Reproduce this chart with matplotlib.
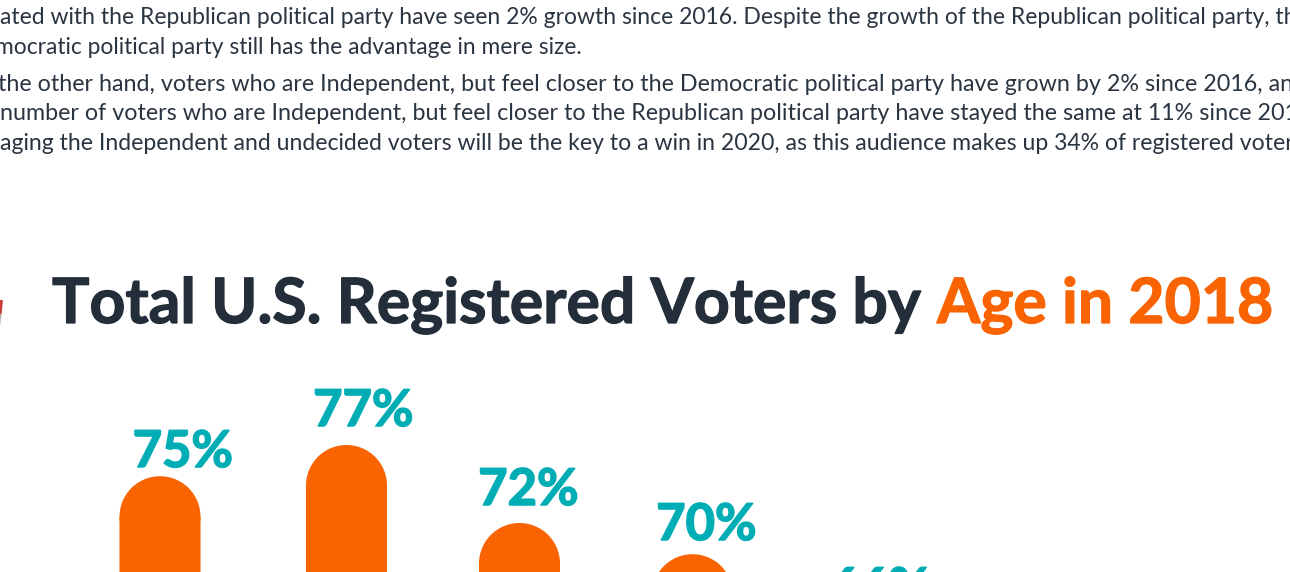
import matplotlib
matplotlib.use("Agg")
import matplotlib.pyplot as plt
import matplotlib.patheffects as pe
from matplotlib.patches import Circle, Polygon, Rectangle

W, H = 1290, 572
plt.rcParams['font.family'] = ['Lato', 'Open Sans', 'DejaVu Sans']

# Body copy above the chart
paragraph_lines = [
    "ated with the Republican political party have seen 2% growth since 2016. Despite the growth of the Republican political party, the",
    "mocratic political party still has the advantage in mere size.",
    "the other hand, voters who are Independent, but feel closer to the Democratic political party have grown by 2% since 2016, and",
    "number of voters who are Independent, but feel closer to the Republican political party have stayed the same at 11% since 2016.",
    "aging the Independent and undecided voters will be the key to a win in 2020, as this audience makes up 34% of registered voters.",
]

values = [75, 77, 72, 70, 66]
value_labels = ["75%", "77%", "72%", "70%", "66%"]

# Layout in pixels
line_baselines = [24.5, 54, 91, 120.5, 149.5]
line_starts = [0, -5, -2, 0, 0]
line_sizes = [16.5, 16.4, 16.76, 16.75, 16.55]
bar_centres = [160, 346.5, 519.5, 692.5, 880]
label_centres = [183, 363.5, 528.5, 706.5, 880]
label_baselines = [467, 426, 505, 540, 604]
bar_radius = 40.5

fig = plt.figure(figsize=(W / 100, H / 100), dpi=100, facecolor="white")
ax = fig.add_axes([0, 0, 1, 1])
ax.set_xlim(0, W)
ax.set_ylim(H, 0)
ax.axis("off")

TEXT = "#2a3541"
TITLE = "#232e3a"
ORANGE = "#f96302"
TEAL = "#00adb5"

for line, x, y, size in zip(paragraph_lines, line_starts, line_baselines, line_sizes):
    ax.text(x, y, line, fontsize=size, color=TEXT, va="baseline", ha="left", clip_on=True)

title_weight = [pe.withStroke(linewidth=0.9, foreground=TITLE)]
accent_weight = [pe.withStroke(linewidth=0.9, foreground=ORANGE)]
ax.text(52, 323, "Total U.S. Registered Voters by", fontsize=45, fontweight="bold",
        color=TITLE, va="baseline", ha="left", path_effects=title_weight)
ax.text(937, 323, "Age in 2018", fontsize=45, fontweight="bold",
        color=ORANGE, va="baseline", ha="left", path_effects=accent_weight)

# Sliver of the emblem that sits left of the title, red fading to grey
ax.add_patch(Polygon([(0, 300), (3, 300), (1.6, 314), (0, 314)], closed=True, fc="#c8403a", ec="none"))
ax.add_patch(Polygon([(0, 314), (1.6, 314), (0, 326)], closed=True, fc="#b5b0ae", ec="none"))


def bar_top(pct):
    """Pixel row of the top of a bar for a percentage value."""
    return 445 + (77 - pct) * 15.6


label_weight = [pe.withStroke(linewidth=1.1, foreground=TEAL)]
for c, v, lab, lc, lb in zip(bar_centres, values, value_labels, label_centres, label_baselines):
    top = bar_top(v)
    ax.add_patch(Circle((c, top + bar_radius), bar_radius, fc=ORANGE, ec="none"))
    ax.add_patch(Rectangle((c - bar_radius, top + bar_radius), 2 * bar_radius, 400,
                           fc=ORANGE, ec="none", snap=False))
    ax.text(lc, lb, lab, fontsize=36.5, fontweight="bold", color=TEAL,
            va="baseline", ha="center", clip_on=True, path_effects=label_weight)

fig.savefig("out.png", dpi=100)
